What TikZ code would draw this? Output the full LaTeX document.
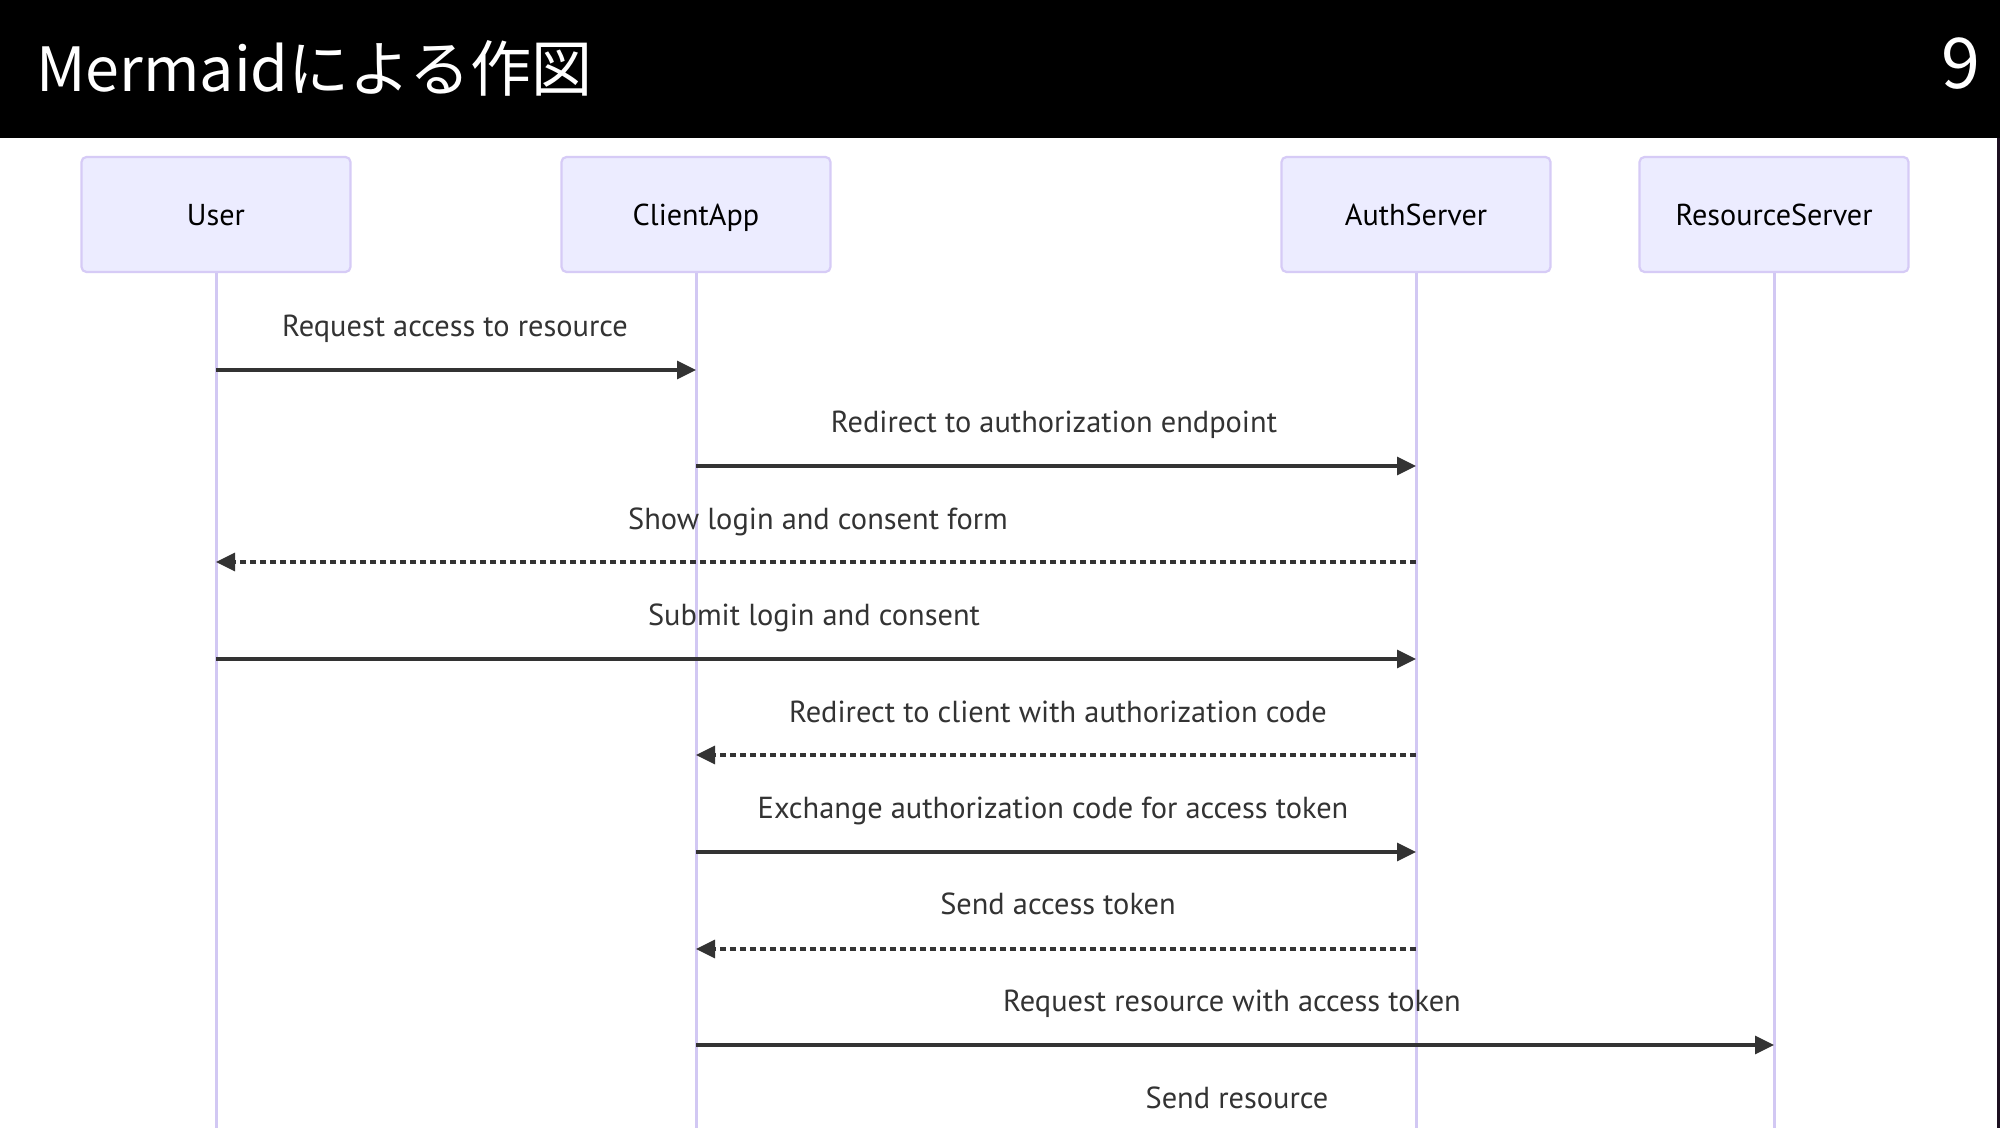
\documentclass[tikz,border=0pt]{standalone}
\usepackage{fontspec}
\setmainfont{PT Sans}
\newfontfamily\jpfont{Noto Sans CJK JP}
\usetikzlibrary{arrows.meta}
\definecolor{actfill}{HTML}{ECECFF}
\definecolor{actdraw}{HTML}{D6CBF6}
\definecolor{lifeln}{HTML}{D2C8F3}
\definecolor{msgcol}{HTML}{333333}
\definecolor{edgecol}{HTML}{1C1020}
\tikzset{
  actor/.style={draw=actdraw, fill=actfill, line width=1.1pt, rounded corners=2.5pt,
    minimum width=134.5pt, minimum height=57.5pt, inner sep=0pt, text=black,
    text height=13pt, text depth=1.6pt,
    font=\fontsize{15.1}{18}\selectfont},
  lifeline/.style={draw=lifeln, line width=1.5pt},
  lbl/.style={text=msgcol, inner sep=0pt, anchor=center, text height=10.8pt, text depth=3.2pt,
    font=\fontsize{15.2}{18}\selectfont},
  msgsolid/.style={draw=msgcol, line width=1.6pt, -{Triangle[length=9.5pt,width=9pt]}},
  msgdash/.style={msgsolid, line width=1.6pt, dash pattern=on 2.8pt off 2.2pt}
}
\begin{document}
\begin{tikzpicture}[x=0.5pt,y=-0.5pt]
\useasboundingbox (0,0) rectangle (2000,1128);
\fill[white] (0,0) rectangle (2000,1128);
\fill[black] (0,0) rectangle (2000,138);
\fill[edgecol] (1997,138) rectangle (2000,1128);
\node[anchor=base west, text=white, inner sep=0pt, font=\jpfont\fontsize{30.5}{36}\selectfont] (title) at (36,92) {Mermaidによる作図};
\node[anchor=base east, text=white, inner sep=0pt, font=\jpfont\fontsize{35}{40}\selectfont] (pnum) at (1981,89) {9};

% lifelines
\coordinate (userend) at (216,1128);
\coordinate (clientend) at (696,1128);
\coordinate (authend) at (1416,1128);
\coordinate (resend) at (1774,1128);
\draw[lifeline] (216,214) -- (userend);
\draw[lifeline] (696,214) -- (clientend);
\draw[lifeline] (1416,214) -- (authend);
\draw[lifeline] (1774,214) -- (resend);

\node[actor] (user) at (216,214.5) {User};
\node[actor] (client) at (696,214.5) {ClientApp};
\node[actor] (auth) at (1416,214.5) {AuthServer};
\node[actor] (res) at (1774,214.5) {ResourceServer};

% message end points on lifelines
\path (user.center |- 0,370) coordinate (u1);
\path (client.center |- 0,370) coordinate (c1);
\path (client.center |- 0,466) coordinate (c2);
\path (auth.center |- 0,466) coordinate (a2);
\path (auth.center |- 0,562) coordinate (a3);
\path (user.center |- 0,562) coordinate (u3);
\path (user.center |- 0,659) coordinate (u4);
\path (auth.center |- 0,659) coordinate (a4);
\path (auth.center |- 0,755) coordinate (a5);
\path (client.center |- 0,755) coordinate (c5);
\path (client.center |- 0,852) coordinate (c6);
\path (auth.center |- 0,852) coordinate (a6);
\path (auth.center |- 0,949) coordinate (a7);
\path (client.center |- 0,949) coordinate (c7);
\path (client.center |- 0,1045) coordinate (c8);
\path (res.center |- 0,1045) coordinate (r8);

\draw[msgsolid] (u1) -- (c1);
\draw[msgsolid] (c2) -- (a2);
\draw[msgdash] (a3) -- (u3);
\draw[msgsolid] (u4) -- (a4);
\draw[msgdash] (a5) -- (c5);
\draw[msgsolid] (c6) -- (a6);
\draw[msgdash] (a7) -- (c7);
\draw[msgsolid] (c8) -- (r8);

\node[lbl] (t1) at (455,329) {Request access to resource};
\node[lbl] (t2) at (1054,425) {Redirect to authorization endpoint};
\node[lbl] (t3) at (818,522) {Show login and consent form};
\node[lbl] (t4) at (814,618) {Submit login and consent};
\node[lbl] (t5) at (1058,715) {Redirect to client with authorization code};
\node[lbl] (t6) at (1053,811) {Exchange authorization code for access token};
\node[lbl] (t7) at (1058,907) {Send access token};
\node[lbl] (t8) at (1232,1004) {Request resource with access token};
\node[lbl] (t9) at (1237,1101) {Send resource};
\end{tikzpicture}
\end{document}
